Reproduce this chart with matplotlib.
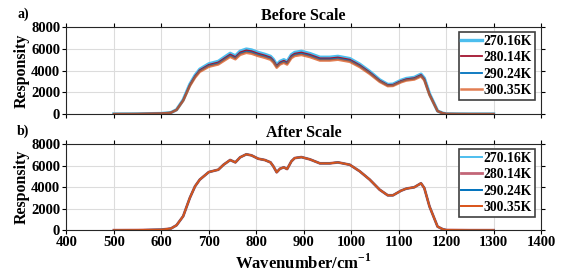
import numpy as np
import matplotlib.pyplot as plt

plt.rcParams['font.family'] = ['Liberation Serif', 'DejaVu Serif']
plt.rcParams['font.weight'] = 'bold'
plt.rcParams['axes.labelweight'] = 'bold'
plt.rcParams['axes.titleweight'] = 'bold'
plt.rcParams['mathtext.fontset'] = 'custom'
plt.rcParams['mathtext.rm'] = 'Liberation Serif:bold'
plt.rcParams['mathtext.bf'] = 'Liberation Serif:bold'

# wavenumber grid (cm^-1)
wn = [500, 550, 600, 620, 632, 646, 660, 671, 681, 700, 720, 731, 745, 756,
      766, 779, 790, 804, 818, 830, 836, 843, 850, 858, 865, 874, 881, 895,
      913, 934, 955, 972, 997, 1018, 1039, 1060, 1077, 1088, 1105, 1116,
      1133, 1147, 1154, 1165, 1182, 1193, 1200, 1250, 1300]

# before scale (mid curve) responsivity
before = [0, 10, 40, 120, 380, 1260, 2650, 3450, 4000, 4480, 4700, 5020,
          5420, 5190, 5610, 5800, 5720, 5500, 5330, 5150, 4880, 4390, 4700,
          4850, 4690, 5300, 5500, 5600, 5400, 5070, 5070, 5150, 4950, 4450,
          3800, 3050, 2640, 2660, 3010, 3170, 3270, 3560, 3200, 1800, 270,
          70, 15, 0, 0]

# after scale responsivity (all temperatures overlap)
after = [0, 10, 50, 150, 460, 1300, 3000, 4080, 4700, 5400, 5620, 6080,
         6520, 6300, 6770, 7050, 6950, 6640, 6520, 6300, 5930, 5380, 5710,
         5840, 5680, 6400, 6700, 6790, 6580, 6210, 6210, 6300, 6080, 5470,
         4700, 3760, 3240, 3240, 3670, 3860, 3990, 4360, 3920, 2200, 330,
         90, 20, 0, 0]

temps = ['270.16K', '280.14K', '290.24K', '300.35K']
gains = [1.03, 1.01, 0.99, 0.97]   # relative level of each curve before scaling
colors = ['#4DBEEE', '#A2142F', '#0072BD', '#D95319']

wn = np.array(wn)
before = np.array(before)
after = np.array(after)

fig = plt.figure(figsize=(5.63, 2.76), dpi=100)
ax1 = fig.add_axes([0.118, 0.587, 0.843, 0.315])
ax2 = fig.add_axes([0.118, 0.166, 0.843, 0.312])

lw_a = [2.4, 1.3, 1.3, 1.8]
al_a = [1.0, 1.0, 1.0, 0.75]
for t, g, c, lw, al in zip(temps, gains, colors, lw_a, al_a):
    ax1.plot(wn, before * g, color=c, lw=lw, alpha=al, label=t)

lw_b = [1.4, 2.0, 1.4, 1.4]
al_b = [1.0, 0.65, 1.0, 1.0]
for t, c, lw, al in zip(temps, colors, lw_b, al_b):
    ax2.plot(wn, after, color=c, lw=lw, alpha=al, label=t)

for ax, title, lab in [(ax1, 'Before Scale', 'a)'), (ax2, 'After Scale', 'b)')]:
    ax.set_xlim(400, 1400)
    ax.set_ylim(0, 8000)
    ax.set_xticks(np.arange(400, 1401, 100))
    ax.set_yticks([0, 2000, 4000, 6000, 8000])
    ax.grid(True, color='#dcdcdc', lw=0.8)
    ax.set_axisbelow(True)
    ax.tick_params(direction='out', length=3, width=0.8, top=True, right=True,
                   labelsize=10.5, pad=1.5)
    for s in ax.spines.values():
        s.set_linewidth(0.8)
        s.set_color('#262626')
    ax.set_ylabel('Responsity', fontsize=11.5, labelpad=1)
    ax.set_title(title, fontsize=11.5, pad=5)
    ax.text(-0.104, 1.07, lab, transform=ax.transAxes, fontsize=10,
            fontweight='bold', va='bottom')
    leg = ax.legend(loc='upper right', bbox_to_anchor=(0.987, 0.943), fontsize=9.8,
                    handlelength=1.5, handletextpad=0.15, borderpad=0.2,
                    labelspacing=0.25, fancybox=False, framealpha=1,
                    borderaxespad=0)
    leg.get_frame().set_edgecolor('#404040')
    leg.get_frame().set_linewidth(1.2)

ax1.set_xticklabels([])
ax2.set_xlabel('Wavenumber/cm$^{-1}$', fontsize=12, labelpad=3)

fig.savefig('out.png', dpi=100)
